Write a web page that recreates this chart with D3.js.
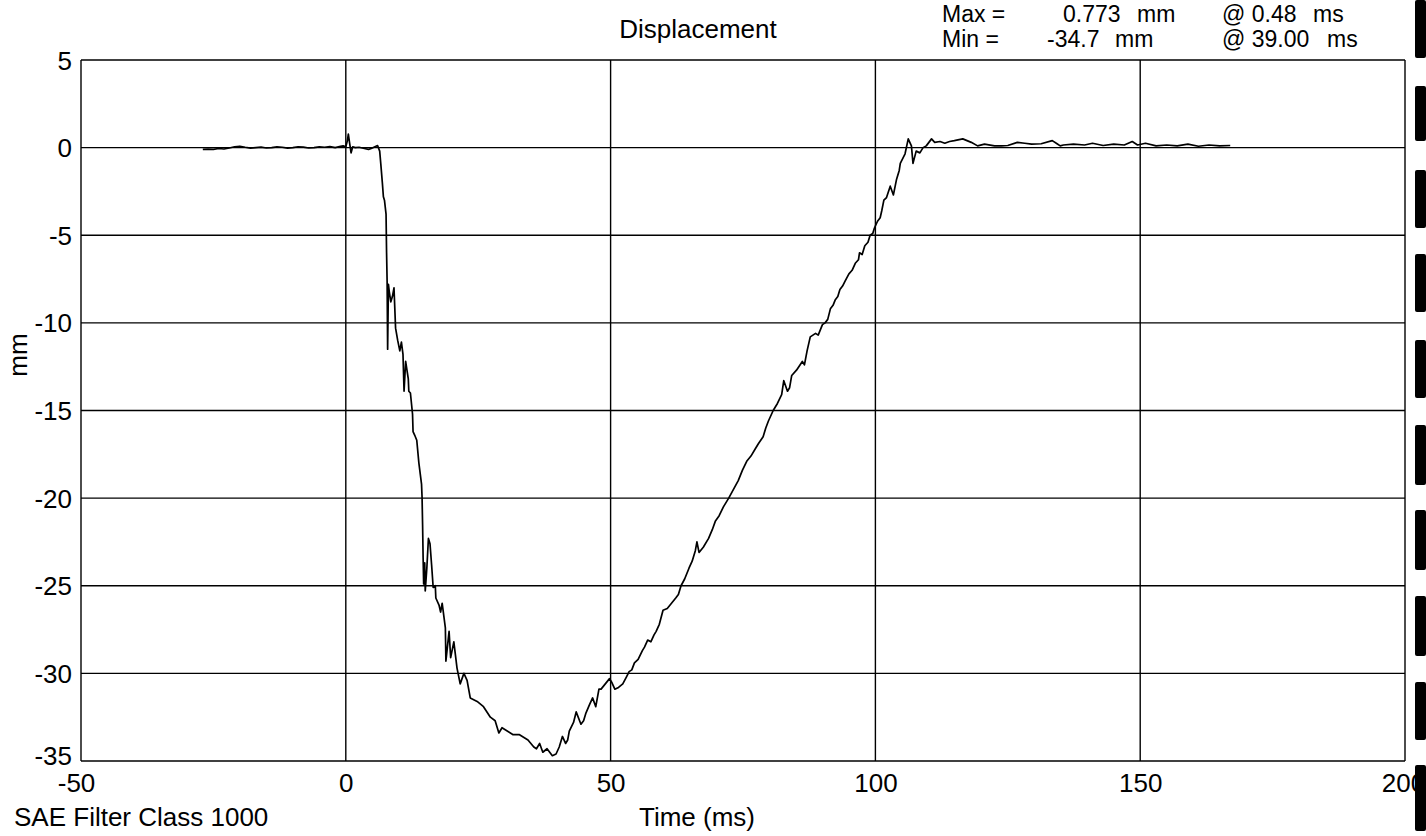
<!DOCTYPE html>
<html><head><meta charset="utf-8">
<script src="https://cdn.jsdelivr.net/npm/d3@7"></script>
<style>
html,body{margin:0;padding:0;background:#fff;}
svg text{font-family:"Liberation Sans",Arial,sans-serif;fill:#000;}
</style></head><body>
<svg id="c" width="1426" height="836"></svg>
<script>
// ---- data ----
const timeMs = [-27,-26,-25,-24,-23,-22,-21,-20,-19,-18,-17,-16,-15,-14,-13,-12,-11,-10,-9,-8,-7,-6,-5,-4,-3,-2,-1,-0.5,0,
0.3,0.48,0.7,1.0,1.3,1.8,2.5,3.5,4.3,4.8,5.5,6.0,6.4,6.6,6.9,7.1,7.3,7.6,7.7,7.8,7.9,8.05,8.2,8.5,8.8,9.1,9.4,9.8,10.2,10.5,10.8,11.0,11.3,11.8,11.9,12.2,12.6,12.7,13.0,13.4,13.8,14.3,14.4,14.5,14.6,14.7,14.9,15.0,15.3,15.6,15.9,16.2,16.5,16.9,17.0,17.6,17.9,18.2,18.8,18.9,19.5,19.8,20.4,21.0,21.6,22.3,22.9,23.5,24.8,26.0,27.3,28.2,28.9,29.5,31.6,32.8,34.4,35.5,36.0,36.6,37.2,38.0,39.0,39.7,40.3,40.9,41.5,41.9,42.2,43.0,43.5,44.4,44.9,45.3,46.0,46.6,47.2,47.8,48.2,49.0,49.8,50.2,50.8,51.5,52.3,
53.0,53.5,54.0,54.5,55.2,56.0,56.4,57.0,57.6,58.2,58.6,59.2,59.9,60.7,61.5,62.3,62.8,63.3,64.0,64.8,65.4,66.0,66.3,66.7,67.5,68.5,69.2,69.8,70.5,71.3,72.3,73.2,74.1,74.9,75.7,76.5,77.3,77.9,78.8,79.3,79.8,80.7,81.5,82.3,
82.7,83.4,83.8,84.2,85.1,86.2,86.6,87.1,87.7,88.7,89.2,89.6,90.0,90.5,91.0,91.5,92.0,92.4,92.9,93.3,93.8,94.3,95.0,95.6,96.2,96.8,97.0,97.5,98.0,98.6,99.0,99.5,99.8,100.4,100.9,101.2,101.6,102.1,102.8,103.4,104.0,104.5,104.7,105.6,106.2,106.8,107.1,107.7,108.4,109.0,109.6,110.6,111.2,112.2,113.1,114.0,114.9,116.5,118.1,119.3,120.6,122.5,123.8,125.0,126.8,128.2,129.5,131.3,133.4,134.3,134.9,135.5,137.4,139.5,141.0,143.0,145.0,147.0,148.5,149.5,151.0,153.0,155.0,157.0,159.0,161.0,163.0,165.0,167.0];
const displacementMm = [-0.1,-0.08,-0.1,-0.05,-0.08,-0.02,0.05,0.08,0.02,-0.03,0.0,0.03,-0.02,0.0,0.04,0.02,-0.03,0.0,0.05,0.03,-0.02,0.0,0.04,0.02,0.06,0.0,0.08,0.1,0.05,
0.4,0.77,0.3,-0.3,0.05,0.0,0.02,-0.05,-0.1,-0.05,0.05,0.12,-0.2,-0.9,-2.0,-2.8,-3.0,-3.8,-6.0,-7.6,-11.5,-7.8,-8.2,-8.8,-8.5,-8.0,-10.3,-11.0,-11.6,-11.1,-11.8,-13.9,-12.2,-13.2,-13.9,-14.0,-15.2,-16.2,-16.4,-16.7,-18.0,-19.2,-19.95,-21.5,-23.4,-24.9,-23.7,-25.3,-24.0,-22.3,-22.6,-23.8,-25.1,-25.0,-25.7,-26.1,-26.5,-26.0,-27.4,-29.3,-27.6,-29.1,-28.2,-29.7,-30.6,-30.0,-30.4,-31.4,-31.6,-31.9,-32.5,-32.7,-33.4,-33.1,-33.5,-33.5,-33.8,-34.2,-34.3,-34.0,-34.5,-34.3,-34.7,-34.6,-34.2,-33.6,-34.0,-33.8,-33.3,-32.8,-32.2,-32.9,-32.7,-32.3,-31.8,-31.4,-31.9,-30.9,-30.9,-30.6,-30.3,-30.5,-30.9,-30.8,-30.6,
-30.2,-29.9,-29.8,-29.4,-29.2,-28.7,-28.5,-28.1,-28.2,-27.8,-27.6,-27.2,-26.4,-26.3,-26.0,-25.7,-25.5,-25.0,-24.6,-24.0,-23.6,-23.0,-22.5,-23.1,-22.8,-22.3,-21.8,-21.3,-21.0,-20.5,-20.0,-19.5,-19.0,-18.4,-17.9,-17.6,-17.2,-16.9,-16.5,-16.0,-15.6,-15.0,-14.6,-14.1,
-13.3,-13.9,-13.7,-13.0,-12.7,-12.2,-12.4,-11.6,-10.8,-10.6,-10.7,-10.4,-10.1,-10.0,-9.8,-9.2,-9.0,-8.7,-8.5,-8.1,-7.9,-7.6,-7.2,-7.0,-6.6,-6.4,-6.0,-6.1,-5.6,-5.4,-5.0,-4.9,-4.6,-4.2,-4.0,-3.6,-3.0,-2.85,-2.2,-2.7,-1.8,-1.3,-0.9,-0.35,0.5,0.1,-0.9,-0.2,-0.3,0.0,0.1,0.5,0.3,0.35,0.25,0.35,0.4,0.5,0.3,0.1,0.2,0.1,0.1,0.12,0.3,0.25,0.2,0.22,0.4,0.22,0.1,0.15,0.2,0.15,0.25,0.12,0.2,0.15,0.35,0.15,0.25,0.1,0.15,0.1,0.2,0.08,0.15,0.1,0.12];
const xTicks = [-50,0,50,100,150,200];
const yTicks = [5,0,-5,-10,-15,-20,-25,-30,-35];
const titleText = "Displacement";
const maxRow = ["Max =","0.773","mm","@ 0.48","ms"];
const minRow = ["Min =","-34.7","mm","@ 39.00","ms"];
const xLabel = "Time (ms)";
const yLabel = "mm";
const footNote = "SAE Filter Class 1000";
// scan-edge marks along right border (starting y, height)
const edgeMarkY = [0,86,170,254,340,425,510,596,682,765];
const edgeMarkH = [58,55,58,58,58,60,60,60,58,66];

// ---- layout ----
const svg = d3.select("#c");
const L=81, R=1405, T=60, B=761;
const FS=26, FS2=23;
const x = d3.scaleLinear().domain([-50,200]).range([L,R]);
const y = d3.scaleLinear().domain([-35,5]).range([B,T]);

// grid
svg.append("g").selectAll("line").data(yTicks).join("line")
  .attr("x1",L).attr("x2",R).attr("y1",d=>y(d)).attr("y2",d=>y(d))
  .attr("stroke","#000").attr("stroke-width",1.4);
svg.append("g").selectAll("line").data(xTicks).join("line")
  .attr("y1",T).attr("y2",B).attr("x1",d=>x(d)).attr("x2",d=>x(d))
  .attr("stroke","#000").attr("stroke-width",1.4);

// axes labels
const fmt = d => String(d);
const yAx = svg.append("g").attr("transform",`translate(${L},0)`)
  .call(d3.axisLeft(y).tickValues(yTicks).tickFormat(fmt).tickSize(0).tickPadding(9));
yAx.select(".domain").remove();
yAx.selectAll("text").attr("font-size",FS).attr("font-family","Liberation Sans, Arial, sans-serif")
  .attr("dy",d=>d===-35?"0.15em":"0.35em");
const xAx = svg.append("g").attr("transform",`translate(0,${B})`)
  .call(d3.axisBottom(x).tickValues(xTicks).tickFormat(fmt).tickSize(0).tickPadding(13));
xAx.select(".domain").remove();
xAx.selectAll("text").attr("font-size",FS).attr("font-family","Liberation Sans, Arial, sans-serif")
  .attr("dx",d=>d===-50?"-5":(d===200?"-2":"0"));

// curve
const pts = timeMs.map((t,i)=>[t,displacementMm[i]]);
svg.append("path").datum(pts)
  .attr("d",d3.line().x(d=>x(d[0])).y(d=>y(d[1])))
  .attr("fill","none").attr("stroke","#000").attr("stroke-width",1.7).attr("stroke-linejoin","round");

// texts
svg.append("text").attr("x",698).attr("y",38).attr("text-anchor","middle").attr("font-size",FS).text(titleText);
const colMax=[942,1063,1137,1222,1313];
const colMin=[942,1047,1115,1222,1327];
maxRow.forEach((s,i)=>svg.append("text").attr("x",colMax[i]).attr("y",22).attr("font-size",FS2).text(s));
minRow.forEach((s,i)=>svg.append("text").attr("x",colMin[i]).attr("y",47).attr("font-size",FS2).text(s));
svg.append("text").attr("x",697).attr("y",826).attr("text-anchor","middle").attr("font-size",FS).text(xLabel);
svg.append("text").attr("x",14).attr("y",826).attr("font-size",FS).text(footNote);
svg.append("text").attr("transform","translate(27,355) rotate(-90)").attr("text-anchor","middle").attr("font-size",FS).text(yLabel);

// edge marks
svg.append("g").selectAll("rect").data(edgeMarkY).join("rect")
  .attr("x",1415).attr("y",d=>d).attr("width",11).attr("height",(d,i)=>edgeMarkH[i])
  .attr("rx",2).attr("fill","#000");
</script>
</body></html>
